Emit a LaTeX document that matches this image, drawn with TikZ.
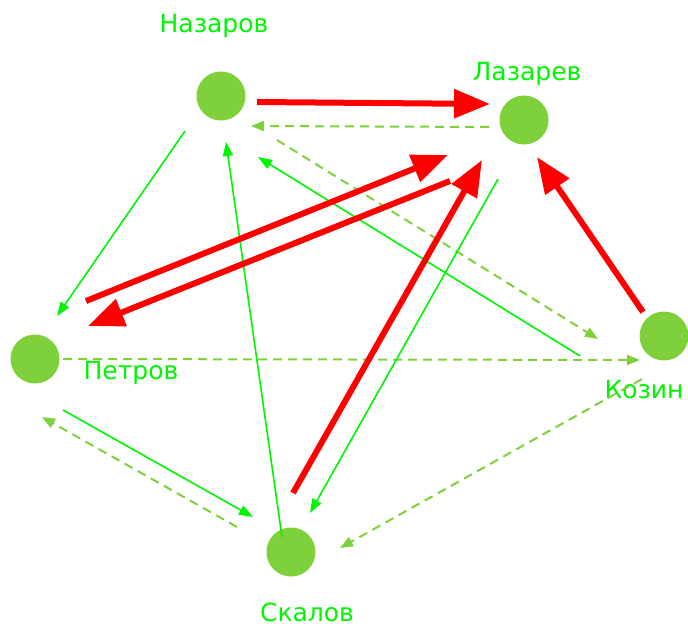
\documentclass[tikz,border=0pt]{standalone}
\usepackage{fontspec}
\setmainfont{DejaVu Sans}
\usetikzlibrary{arrows.meta}
\definecolor{dotgreen}{RGB}{127,209,59}
\definecolor{brightgreen}{RGB}{0,245,0}
\definecolor{strongred}{RGB}{255,0,0}
\tikzset{
  person/.style={circle,fill=dotgreen,draw=none,minimum size=49pt,inner sep=0pt},
  personlabel/.style={text=brightgreen,font=\fontsize{25}{29}\selectfont,inner sep=0pt},
  strong/.style={draw=strongred,line width=6pt,-{Triangle[length=36pt,width=28pt]}},
  thin/.style={draw=brightgreen,line width=1.6pt,-{Triangle[length=14pt,width=10pt]}},
  dashedlink/.style={draw=dotgreen,line width=2pt,dash pattern=on 9pt off 6pt,-{Triangle[length=13pt,width=10pt]}}
}
\begin{document}
\begin{tikzpicture}[x=1pt,y=-1pt]
\useasboundingbox (0,0) rectangle (688,626);
% persons
\node[person] (naz) at (221,96) {};
\node[person] (laz) at (524,120) {};
\node[person] (pet) at (35,359) {};
\node[person] (koz) at (664,336) {};
\node[person] (ska) at (291,552) {};
% labels
\node[personlabel] (nazl) at (214,26) {Назаров};
\node[personlabel] (lazl) at (527,74) {Лазарев};
\node[personlabel] (petl) at (131,373) {Петров};
\node[personlabel] (kozl) at (644,390) {Козин};
\node[personlabel] (skal) at (307,612) {Скалов};
% connector end points
\coordinate (e1a) at (257,102); \coordinate (e1b) at (490,104);
\coordinate (e2a) at (489,127); \coordinate (e2b) at (251,126);
\coordinate (e3a) at (277,140); \coordinate (e3b) at (598,339);
\coordinate (e4a) at (580,356); \coordinate (e4b) at (258,157);
\coordinate (e5a) at (185,131); \coordinate (e5b) at (57,316);
\coordinate (e6a) at (282,537); \coordinate (e6b) at (226,142);
\coordinate (e7a) at (86,301);  \coordinate (e7b) at (448,155);
\coordinate (e8a) at (450,181); \coordinate (e8b) at (88,326);
\coordinate (e9a) at (293,493); \coordinate (e9b) at (482,160);
\coordinate (e10a) at (498,179); \coordinate (e10b) at (310,513);
\coordinate (e11a) at (643,312); \coordinate (e11b) at (537,157);
\coordinate (e12a) at (63,359); \coordinate (e12b) at (640,360);
\coordinate (e13a) at (237,527); \coordinate (e13b) at (42,417);
\coordinate (e14a) at (63,410); \coordinate (e14b) at (253,517);
\coordinate (e15a) at (642,379); \coordinate (e15b) at (340,548);
% dashed links
\draw[dashedlink] (e2a) -- (e2b);
\draw[dashedlink] (e3a) -- (e3b);
\draw[dashedlink] (e12a) -- (e12b);
\draw[dashedlink] (e13a) -- (e13b);
\draw[dashedlink] (e15a) -- (e15b);
% thin links
\draw[thin] (e4a) -- (e4b);
\draw[thin] (e5a) -- (e5b);
\draw[thin] (e6a) -- (e6b);
\draw[thin] (e10a) -- (e10b);
\draw[thin] (e14a) -- (e14b);
% strong links
\draw[strong] (e1a) -- (e1b);
\draw[strong] (e7a) -- (e7b);
\draw[strong] (e8a) -- (e8b);
\draw[strong] (e9a) -- (e9b);
\draw[strong] (e11a) -- (e11b);
\end{tikzpicture}
\end{document}
